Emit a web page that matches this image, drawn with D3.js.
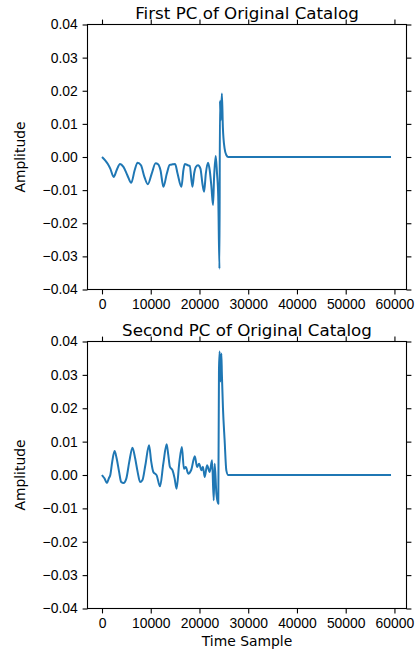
<!DOCTYPE html>
<html>
<head>
<meta charset="utf-8">
<script src="https://cdn.jsdelivr.net/npm/d3@7"></script>
<style>
  body { margin: 0; background: #fff; }
  svg { display: block; font-family: "DejaVu Sans", sans-serif; }
  .tick line { stroke: #000; stroke-width: 1.1; }
  .tick text { fill: #000; font-size: 13.9px; }
  .spine { fill: none; stroke: #000; stroke-width: 1.1; }
  .pc-line { fill: none; stroke: #1f77b4; stroke-width: 2; stroke-linejoin: round; }
</style>
</head>
<body>
<svg id="chart" width="417" height="653"></svg>
<script>
// ---- data (time sample, amplitude) ----
const pc1Sample = [0, 700, 1200, 1700, 2400, 3000, 3700, 4400, 5200, 6000, 6700, 7300, 8000, 8700,
  9400, 10200, 11000, 11500, 12000, 12600, 13300, 13900, 14500, 15000, 15500, 16300, 16700, 17000,
  17600, 18000, 18550, 18900, 19250, 19700, 20200, 20600, 20950, 21300, 21750, 22100, 22450, 22780,
  23000, 23330, 23600, 23850, 24100, 24200, 24350, 24600, 24800, 25150, 25500, 25900, 59300];
const pc1Amp = [0, -0.0011, -0.0021, -0.0035, -0.006, -0.004, -0.0021, -0.003, -0.0055, -0.0078, -0.004,
  -0.0017, -0.0025, -0.006, -0.0082, -0.005, -0.0019, -0.0022, -0.004, -0.009, -0.005, -0.0024,
  -0.0022, -0.0021, -0.005, -0.009, -0.004, -0.0021, -0.0025, -0.0027, -0.009, -0.005, -0.003,
  -0.0025, -0.0035, -0.008, -0.0105, -0.005, -0.0017, -0.004, -0.009, -0.0145, -0.006, 0.0003,
  -0.005, -0.012, -0.0337, 0.017, 0.011, 0.0192, 0.009, 0.0026, 0.0006, 0, 0];

const pc2Sample = [0, 500, 1020, 1400, 1700, 2100, 2580, 3000, 3500, 3940, 4420, 5000, 5600, 6250,
  6800, 7300, 7820, 8300, 8900, 9650, 10100, 10530, 11220, 11900, 12580, 13260, 13600, 13940, 14480,
  14900, 15300, 15840, 16390, 16800, 17200, 17680, 18300, 19040, 19510, 19920, 20410, 20700, 21080,
  21550, 22100, 22580, 22920, 23120, 23470, 23860, 24000, 24140, 24300, 24490, 24600, 24820, 25160,
  25510, 25900, 59300];
const pc2Amp = [0, -0.001, -0.0024, -0.001, 0, 0.004, 0.0072, 0.005, 0.001, -0.0021, -0.0024, -0.001,
  0.004, 0.0082, 0.005, 0.001, -0.0021, -0.0015, 0.003, 0.0089, 0.004, 0.0009, -0.0001, -0.0034,
  0.0034, 0.0092, 0.006, 0.0024, 0.0014, -0.001, -0.0041, 0.0034, 0.0084, 0.0019, 0.0024, 0.0004,
  0.0015, 0.0056, 0.0024, 0.0034, 0.0014, 0.0025, -0.0006, 0.0029, 0.0009, 0.0044, -0.0076, 0.0034,
  -0.0056, -0.0086, 0.0314, 0.037, 0.028, 0.0364, 0.030, 0.020, 0.0104, 0.0014, 0, 0];

const xTicks = [0, 10000, 20000, 30000, 40000, 50000, 60000];
const yTicks = [-0.04, -0.03, -0.02, -0.01, 0, 0.01, 0.02, 0.03, 0.04];

const panels = [
  { title: "First PC of Original Catalog", sample: pc1Sample, amp: pc1Amp, top: 24.5, bottom: 289.5 },
  { title: "Second PC of Original Catalog", sample: pc2Sample, amp: pc2Amp, top: 341.5, bottom: 608.5 },
];

const LEFT = 87.5, RIGHT = 406.5;
const TICK = 4.9, PAD = 4.9;
const svg = d3.select("#chart");

const x = d3.scaleLinear().domain([-2975, 62475]).range([LEFT, RIGHT]);
const fmtY = (d) => d3.format(".2f")(d).replace("-", "\u2212");

panels.forEach((p) => {
  const y = d3.scaleLinear().domain([-0.04, 0.04]).range([p.bottom, p.top]);
  const g = svg.append("g");

  // line
  const pts = p.sample.map((s, i) => [s, p.amp[i]]);
  g.append("path")
    .attr("class", "pc-line")
    .attr("d", d3.line().x((d) => x(d[0])).y((d) => y(d[1])).curve(d3.curveMonotoneX)(pts));

  // axes, ticks on all four sides pointing outward
  const ax = (axis, tx, ty, labels) => {
    const a = g.append("g").attr("transform", `translate(${tx},${ty})`)
      .call(axis.tickSize(TICK).tickPadding(PAD));
    a.select(".domain").remove();
    if (!labels) a.selectAll("text").remove();
    return a;
  };
  ax(d3.axisBottom(x).tickValues(xTicks).tickFormat(d3.format("d")), 0, p.bottom, true);
  ax(d3.axisTop(x).tickValues(xTicks), 0, p.top, false);
  ax(d3.axisLeft(y).tickValues(yTicks).tickFormat(fmtY), LEFT, 0, true);
  ax(d3.axisRight(y).tickValues(yTicks), RIGHT, 0, false);

  g.append("rect").attr("class", "spine")
    .attr("x", LEFT).attr("y", p.top)
    .attr("width", RIGHT - LEFT).attr("height", p.bottom - p.top);

  // title
  g.append("text")
    .attr("x", (LEFT + RIGHT) / 2).attr("y", p.top - 5.5)
    .attr("text-anchor", "middle")
    .style("font-size", "16.7px")
    .text(p.title);

  // y label
  g.append("text")
    .attr("transform", `translate(25,${(p.top + p.bottom) / 2}) rotate(-90)`)
    .attr("text-anchor", "middle")
    .style("font-size", "13.9px")
    .text("Amplitude");
});

svg.append("text")
  .attr("x", (LEFT + RIGHT) / 2).attr("y", 646)
  .attr("text-anchor", "middle")
  .style("font-size", "13.9px")
  .text("Time Sample");
</script>
</body>
</html>
